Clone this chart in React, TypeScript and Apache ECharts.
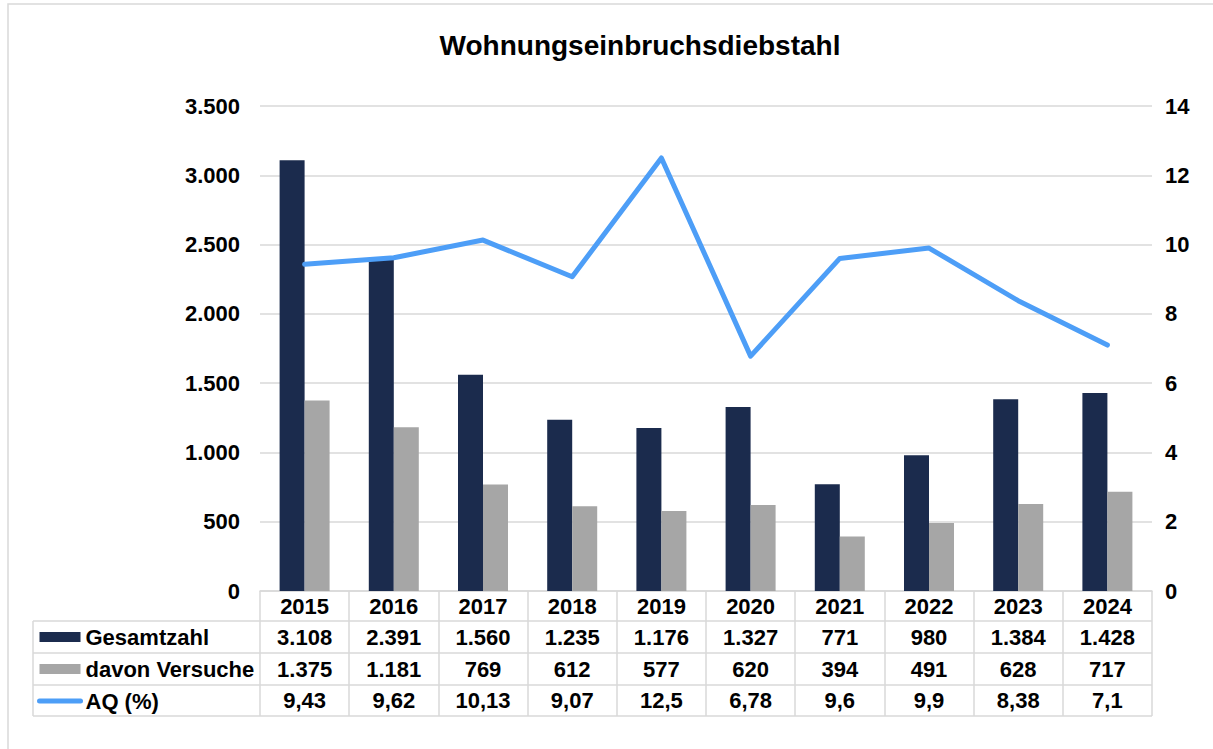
import React, { useEffect, useRef } from "react";
import * as echarts from "echarts";

const years = ["2015", "2016", "2017", "2018", "2019", "2020", "2021", "2022", "2023", "2024"];
const gesamtzahl = [3108, 2391, 1560, 1235, 1176, 1327, 771, 980, 1384, 1428];
const versuche = [1375, 1181, 769, 612, 577, 620, 394, 491, 628, 717];
const aq = [9.43, 9.62, 10.13, 9.07, 12.5, 6.78, 9.6, 9.9, 8.38, 7.1];

const NAVY = "#1b2b4d";
const GRAY = "#a6a6a6";
const BLUE = "#4d9ef7";
const LINE = "#d9d9d9";
const FONT = "Liberation Sans, Arial, sans-serif";

const thousands = (v: number) => String(v).replace(/\B(?=(\d{3})+(?!\d))/g, ".");
const decimal = (v: number) => String(v).replace(".", ",");

export default function App() {
  const ref = useRef<HTMLDivElement>(null);
  useEffect(() => {
    if (!ref.current) return;
    const chart = echarts.init(ref.current, undefined, { renderer: "svg" });
    const labelStyle = { color: "#000", fontSize: 22, fontWeight: "bold" as const, fontFamily: FONT };
    const tableAxis = (data: string[], offset: number) => ({
      type: "category" as const,
      data,
      position: "bottom" as const,
      offset,
      axisLine: { show: false },
      axisTick: { show: false },
      axisLabel: { ...labelStyle, margin: 4, interval: 0 },
      splitLine: { show: false },
    });
    const hline = (y: number) => ({
      type: "line",
      shape: { x1: 33, y1: y, x2: 1152, y2: y },
      style: { stroke: LINE, lineWidth: 1.5 },
      silent: true,
    });
    chart.setOption({
      animation: false,
      title: {
        text: "Wohnungseinbruchsdiebstahl",
        left: 635,
        textAlign: "center",
        top: 26,
        textStyle: { color: "#000", fontSize: 28, fontWeight: "bold", fontFamily: FONT },
      },
      legend: {
        orient: "vertical",
        left: 37,
        top: 621,
        padding: 0,
        itemGap: 0,
        itemWidth: 41,
        itemHeight: 10,
        textStyle: { ...labelStyle, lineHeight: 32 },
        data: [
          { name: "Gesamtzahl", icon: "rect" },
          { name: "davon Versuche", icon: "rect" },
          { name: "AQ (%)", itemStyle: { opacity: 0 }, lineStyle: { width: 5, cap: "round", color: BLUE } },
        ],
        selectedMode: false,
      },
      grid: { left: 260, right: 61, top: 106, bottom: 158 },
      xAxis: [
        {
          type: "category",
          data: years,
          position: "bottom",
          axisLine: { show: true, lineStyle: { color: LINE, width: 1.5 } },
          axisTick: { show: true, length: 125, lineStyle: { color: LINE, width: 1.5 } },
          axisLabel: { ...labelStyle, margin: 4, interval: 0 },
        },
        tableAxis(gesamtzahl.map(thousands), 31),
        tableAxis(versuche.map(thousands), 63),
        tableAxis(aq.map(decimal), 94.5),
      ],
      yAxis: [
        {
          type: "value",
          min: 0,
          max: 3500,
          interval: 500,
          axisLine: { show: false },
          axisTick: { show: false },
          axisLabel: { ...labelStyle, margin: 20, formatter: (v: number) => thousands(v) },
          splitLine: { lineStyle: { color: LINE, width: 1.5 } },
        },
        {
          type: "value",
          min: 0,
          max: 14,
          interval: 2,
          position: "right",
          axisLine: { show: false },
          axisTick: { show: false },
          axisLabel: { ...labelStyle, margin: 13 },
          splitLine: { show: false },
        },
      ],
      series: [
        {
          name: "Gesamtzahl",
          type: "bar",
          data: gesamtzahl,
          barWidth: 25,
          barGap: "0%",
          itemStyle: { color: NAVY },
        },
        {
          name: "davon Versuche",
          type: "bar",
          data: versuche,
          barWidth: 25,
          barGap: "0%",
          itemStyle: { color: GRAY },
        },
        {
          name: "AQ (%)",
          type: "line",
          yAxisIndex: 1,
          data: aq,
          symbol: "none",
          lineStyle: { color: BLUE, width: 5, cap: "round", join: "round" },
          itemStyle: { color: BLUE },
        },
      ],
      graphic: [
        {
          type: "rect",
          shape: { x: 8, y: 4, width: 1230, height: 770 },
          style: { fill: "none", stroke: LINE, lineWidth: 1.5 },
          silent: true,
          z: -10,
        },
        hline(621),
        hline(653),
        hline(685),
        hline(716),
        {
          type: "line",
          shape: { x1: 33, y1: 621, x2: 33, y2: 716 },
          style: { stroke: LINE, lineWidth: 1.5 },
          silent: true,
        },
      ],
    });
    return () => chart.dispose();
  }, []);
  return (
    <div
      ref={ref}
      style={{ position: "fixed", left: 0, top: 0, width: 1213, height: 749, background: "#fff" }}
    />
  );
}
